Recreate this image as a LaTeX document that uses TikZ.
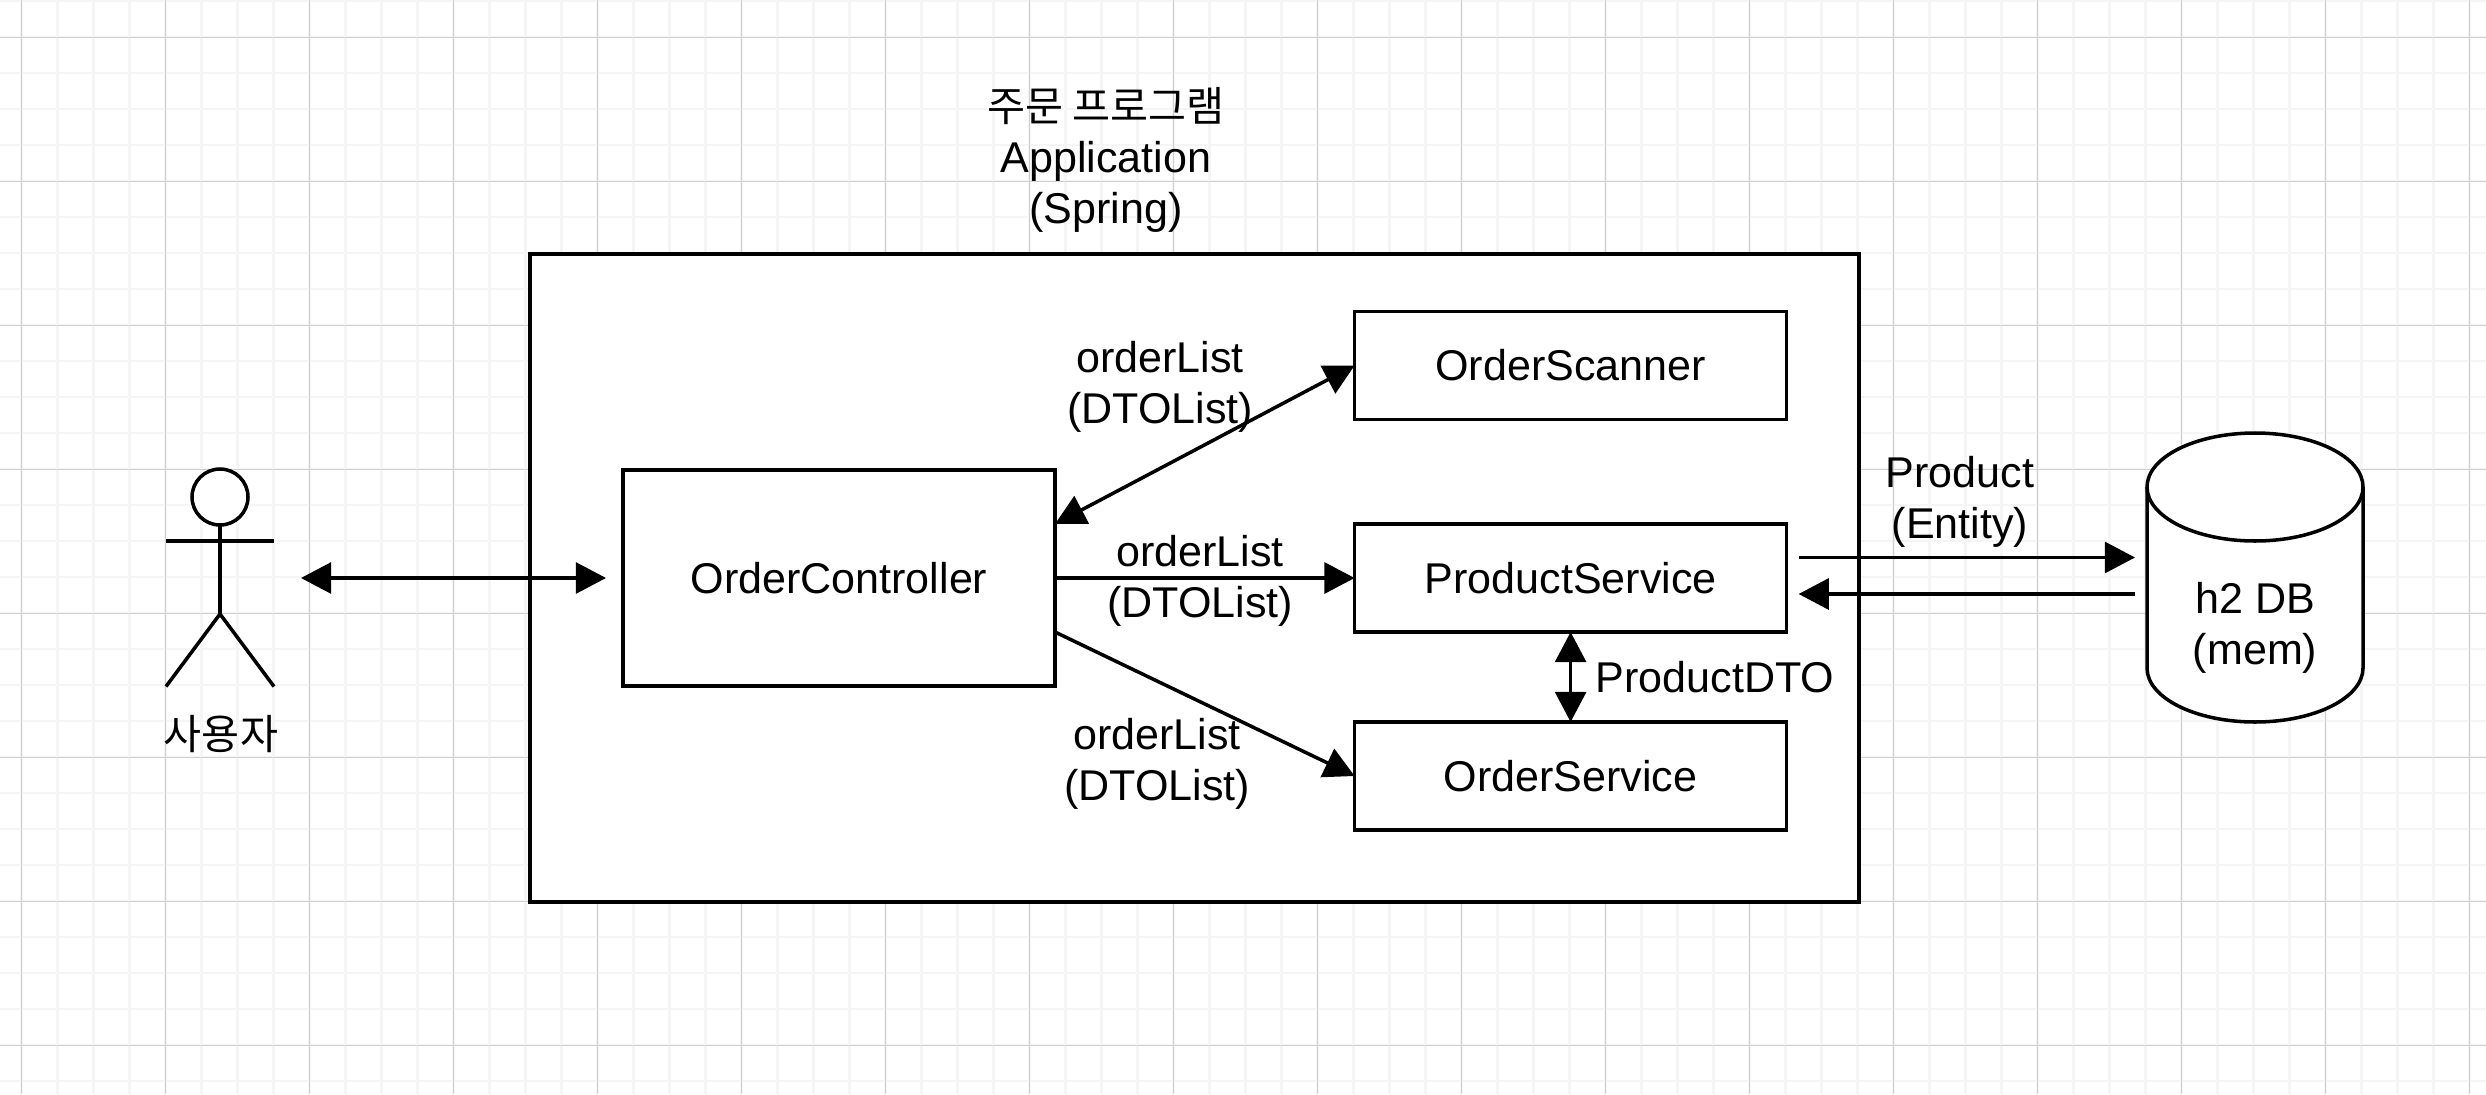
\documentclass[tikz,border=0pt]{standalone}
\usepackage{fontspec}
\setmainfont{Liberation Sans}
\newfontfamily\cjk[Scale=0.96]{Noto Sans CJK KR}
\usetikzlibrary{arrows.meta, calc}
\definecolor{gridmajor}{RGB}{208,208,208}
\definecolor{gridminor}{RGB}{245,245,245}
\tikzset{
    box/.style={rectangle, draw=black, fill=white, line width=1pt, outer sep=0pt, inner sep=0pt, minimum width=4.32cm, minimum height=1.08cm, align=center, font=\fontsize{12.25}{14.5}\selectfont},
    dbstyle/.style={rectangle, outer sep=0pt, inner sep=0pt, minimum width=2.16cm, minimum height=2.89cm},
    lbl/.style={align=center, inner sep=0pt, font=\fontsize{12.25}{14.5}\selectfont},
    arr/.style={-{Triangle[length=8.6pt, width=8.8pt]}, line width=1pt, color=black},
    arrboth/.style={{Triangle[length=8.6pt, width=8.8pt]}-{Triangle[length=8.6pt, width=8.8pt]}, line width=1pt, color=black}
}
\begin{document}
\begin{tikzpicture}
    \useasboundingbox (0,-10.94) rectangle (24.86,0);
    \fill[white] (0,-10.94) rectangle (24.86,0);

    % Background Grid
    \foreach \i in {0,...,68} {
        \draw[gridminor, line width=0.6pt] ({0.215+0.36*\i},-10.94) -- ({0.215+0.36*\i},0);
    }
    \foreach \i in {0,...,30} {
        \draw[gridminor, line width=0.6pt] (0,{-0.013-0.36*\i}) -- (24.86,{-0.013-0.36*\i});
    }
    \foreach \i in {0,...,17} {
        \draw[gridmajor, line width=0.3pt] ({0.215+1.44*\i},-10.94) -- ({0.215+1.44*\i},0);
    }
    \foreach \i in {0,...,7} {
        \draw[gridmajor, line width=0.3pt] (0,{-0.373-1.44*\i}) -- (24.86,{-0.373-1.44*\i});
    }

    % Application Frame
    \node[box, minimum width=13.29cm, minimum height=6.48cm] (app) at (11.945, -5.78) {};
    \node[lbl] (apptitle) at (11.06, -1.6) {{\cjk 주문 프로그램}\\Application\\(Spring)};

    % User
    \node[minimum width=1.08cm, minimum height=2.17cm, inner sep=0pt, outer sep=0pt] (user) at (2.2, -5.78) {};
    \draw[line width=1pt, fill=white] (2.2, -4.97) circle (0.28);
    \draw[line width=1pt] (2.2, -5.25) -- (2.2, -6.14);
    \draw[line width=1pt] (1.66, -5.41) -- (2.74, -5.41);
    \draw[line width=1pt] (user.south west) -- (2.2, -6.14) -- (user.south east);
    \node[lbl] (userlbl) at (2.21, -7.34) {\cjk 사용자};

    % Components
    \node[box, minimum height=2.16cm] (ctrl) at (8.39, -5.78) {OrderController};
    \node[box] (scan) at (15.706, -3.655) {OrderScanner};
    \node[box] (product) at (15.706, -5.78) {ProductService};
    \node[box] (order) at (15.706, -7.76) {OrderService};

    % Database Cylinder
    \node[dbstyle] (db) at (22.55, -5.775) {};
    \filldraw[line width=1pt, fill=white] (21.47, -4.87) arc[start angle=180, end angle=0, x radius=1.08, y radius=0.54] -- (23.63, -6.68) arc[start angle=0, end angle=-180, x radius=1.08, y radius=0.54] -- cycle;
    \draw[line width=1pt] (21.47, -4.87) arc[start angle=180, end angle=360, x radius=1.08, y radius=0.54];
    \node[lbl] (dblbl) at (22.55, -6.28) {h2 DB\\(mem)};

    % Connectors
    \coordinate (prodout) at ([shift={(0.12,0.205)}]product.east);
    \coordinate (prodin) at ([shift={(0.12,-0.16)}]product.east);
    \draw[arrboth] ([xshift=0.27cm]user.east) -- ([xshift=-0.17cm]ctrl.west);
    \draw[arrboth] ($(ctrl.north east)!0.25!(ctrl.south east)$) -- (scan.west);
    \draw[arr] (ctrl.east) -- (product.west);
    \draw[arr] ($(ctrl.north east)!0.75!(ctrl.south east)$) -- (order.west);
    \draw[arrboth] (product.south) -- (order.north);
    \draw[arr] (prodout) -- ([xshift=-0.12cm]prodout -| db.west);
    \draw[arr] ([xshift=-0.12cm]prodin -| db.west) -- (prodin);

    % Connector Labels
    \node[lbl] (lblscan) at (11.6, -3.87) {orderList\\(DTOList)};
    \node[lbl] (lblproduct) at (12.0, -5.81) {orderList\\(DTOList)};
    \node[lbl] (lblorder) at (11.57, -7.64) {orderList\\(DTOList)};
    \node[lbl] (lbldto) at (17.15, -6.77) {ProductDTO};
    \node[lbl] (lblentity) at (19.6, -5.02) {Product\\(Entity)};
\end{tikzpicture}
\end{document}
